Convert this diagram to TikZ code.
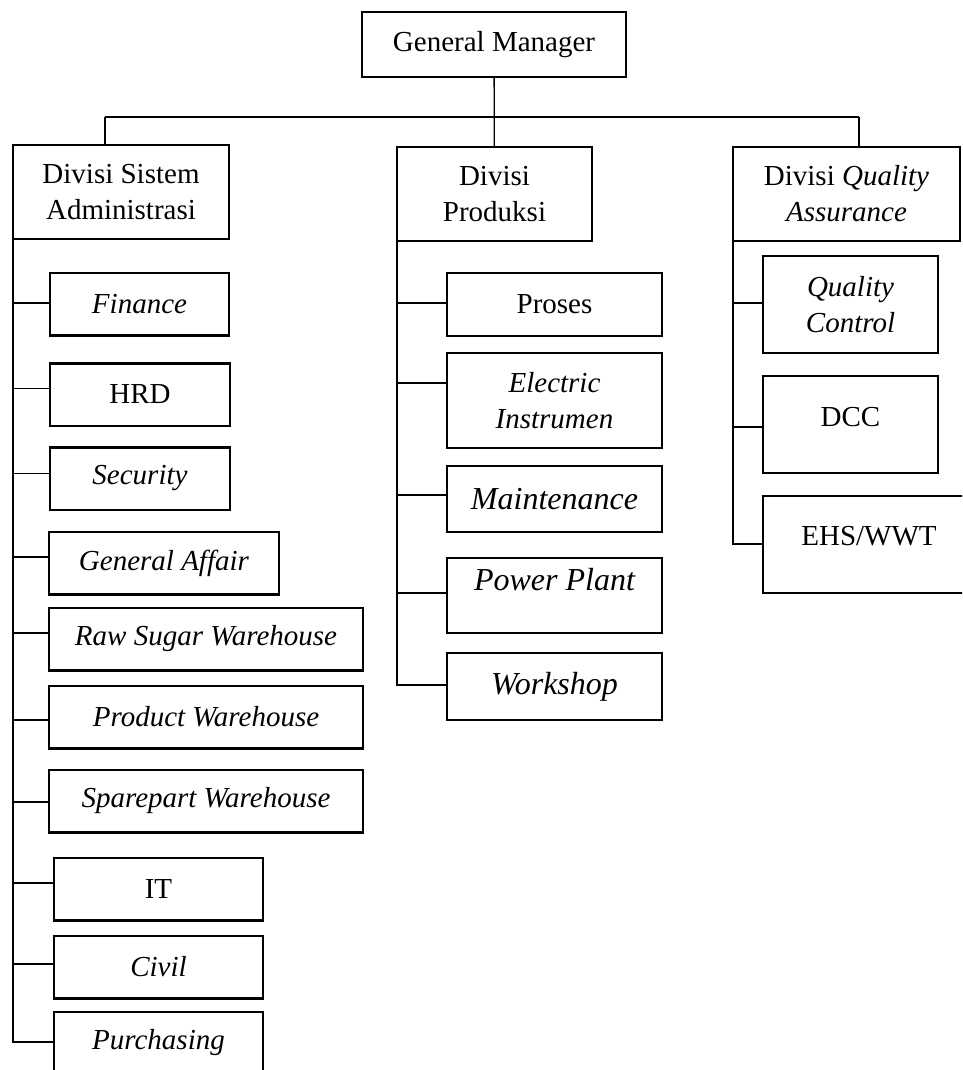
\documentclass[tikz,border=0pt]{standalone}
\usepackage{fontspec}
\setmainfont{Liberation Serif}
\begin{document}
\begin{tikzpicture}[x=1pt, y=-1pt,
  box/.style={draw, line width=2.5pt, inner sep=0pt, outer sep=0pt, align=center,
    font=\fontsize{29}{36}\selectfont},
  big/.style={font=\fontsize{32}{38}\selectfont\itshape},
  link/.style={line width=1.3pt}]
\clip (0,0) rectangle (962,1070);
% top level
\node[box, minimum width=264, minimum height=65] (gm) at (494,44.5) {General Manager};
\node[box, minimum width=216, minimum height=94] (sa) at (121,192) {Divisi Sistem\\Administrasi};
\node[box, minimum width=195, minimum height=94] (pr) at (494.5,194) {Divisi\\Produksi};
\node[box, minimum width=227, minimum height=94] (qa) at (846.5,194) {Divisi \textit{Quality}\\\textit{Assurance}};
\coordinate (bl) at (105,117);
\coordinate (br) at (859,117);
\draw[link] (gm) -- (pr);
\draw[link] (bl) -- (br);
\draw[link] (bl) -- (bl |- sa.north);
\draw[link] (br) -- (br |- qa.north);
% Divisi Sistem Administrasi
\foreach \nm/\cx/\cy/\bw/\up/\txt in {
  fin/139.5/304/179/1/\textit{Finance},
  hrd/140/394.5/180/6/HRD,
  sec/140/478.5/180/5/\textit{Security},
  ga/164/563/230/6/\textit{General Affair},
  raw/206/639/314/6/\textit{Raw Sugar Warehouse},
  prod/206/717/314/-3/\textit{Product Warehouse},
  spare/206/801/314/-1/\textit{Sparepart Warehouse},
  it/158.5/889/209/6/IT,
  civ/158.5/967/209/3/\textit{Civil},
  pur/158.5/1043/209/1/\textit{Purchasing}}
{
  \node[box, minimum width=\bw, minimum height=62.5] (\nm) at (\cx,\cy) {\txt};
  \draw[link] (sa.south west) |- ([yshift=\up pt]\nm.west);
}
% Divisi Produksi
\node[box, minimum width=215, minimum height=63] (pro) at (554.5,304.5) {Proses};
\node[box, minimum width=215, minimum height=95] (ele) at (554.5,400.5) {\textit{Electric}\\\textit{Instrumen}};
\node[box, big, minimum width=215, minimum height=66] (mai) at (554.5,499) {Maintenance};
\node[box, big, minimum width=215, minimum height=75, text height=22pt, text depth=31.5pt] (pow) at (554.5,595.5) {Power Plant};
\node[box, big, minimum width=215, minimum height=67] (wor) at (554.5,686.5) {Workshop};
\foreach \nm/\up in {pro/1.5, ele/17.5, mai/4, pow/2.5, wor/1.5}
{
  \draw[link] (pr.south west) |- ([yshift=\up pt]\nm.west);
}
% Divisi Quality Assurance
\node[box, minimum width=175, minimum height=97] (qc) at (850.5,304.5) {\textit{Quality}\\\textit{Control}};
\node[box, minimum width=175, minimum height=97, text height=19.2pt, text depth=16pt] (dcc) at (850.5,424.5) {DCC};
\node[box, minimum width=212, minimum height=97, text height=19.2pt, text depth=18pt] (ehs) at (869,544.5) {EHS/WWT};
\foreach \nm/\up in {qc/1.5, dcc/-2.5, ehs/0.5}
{
  \draw[link] (qa.south west) |- ([yshift=\up pt]\nm.west);
}
\end{tikzpicture}
\end{document}
